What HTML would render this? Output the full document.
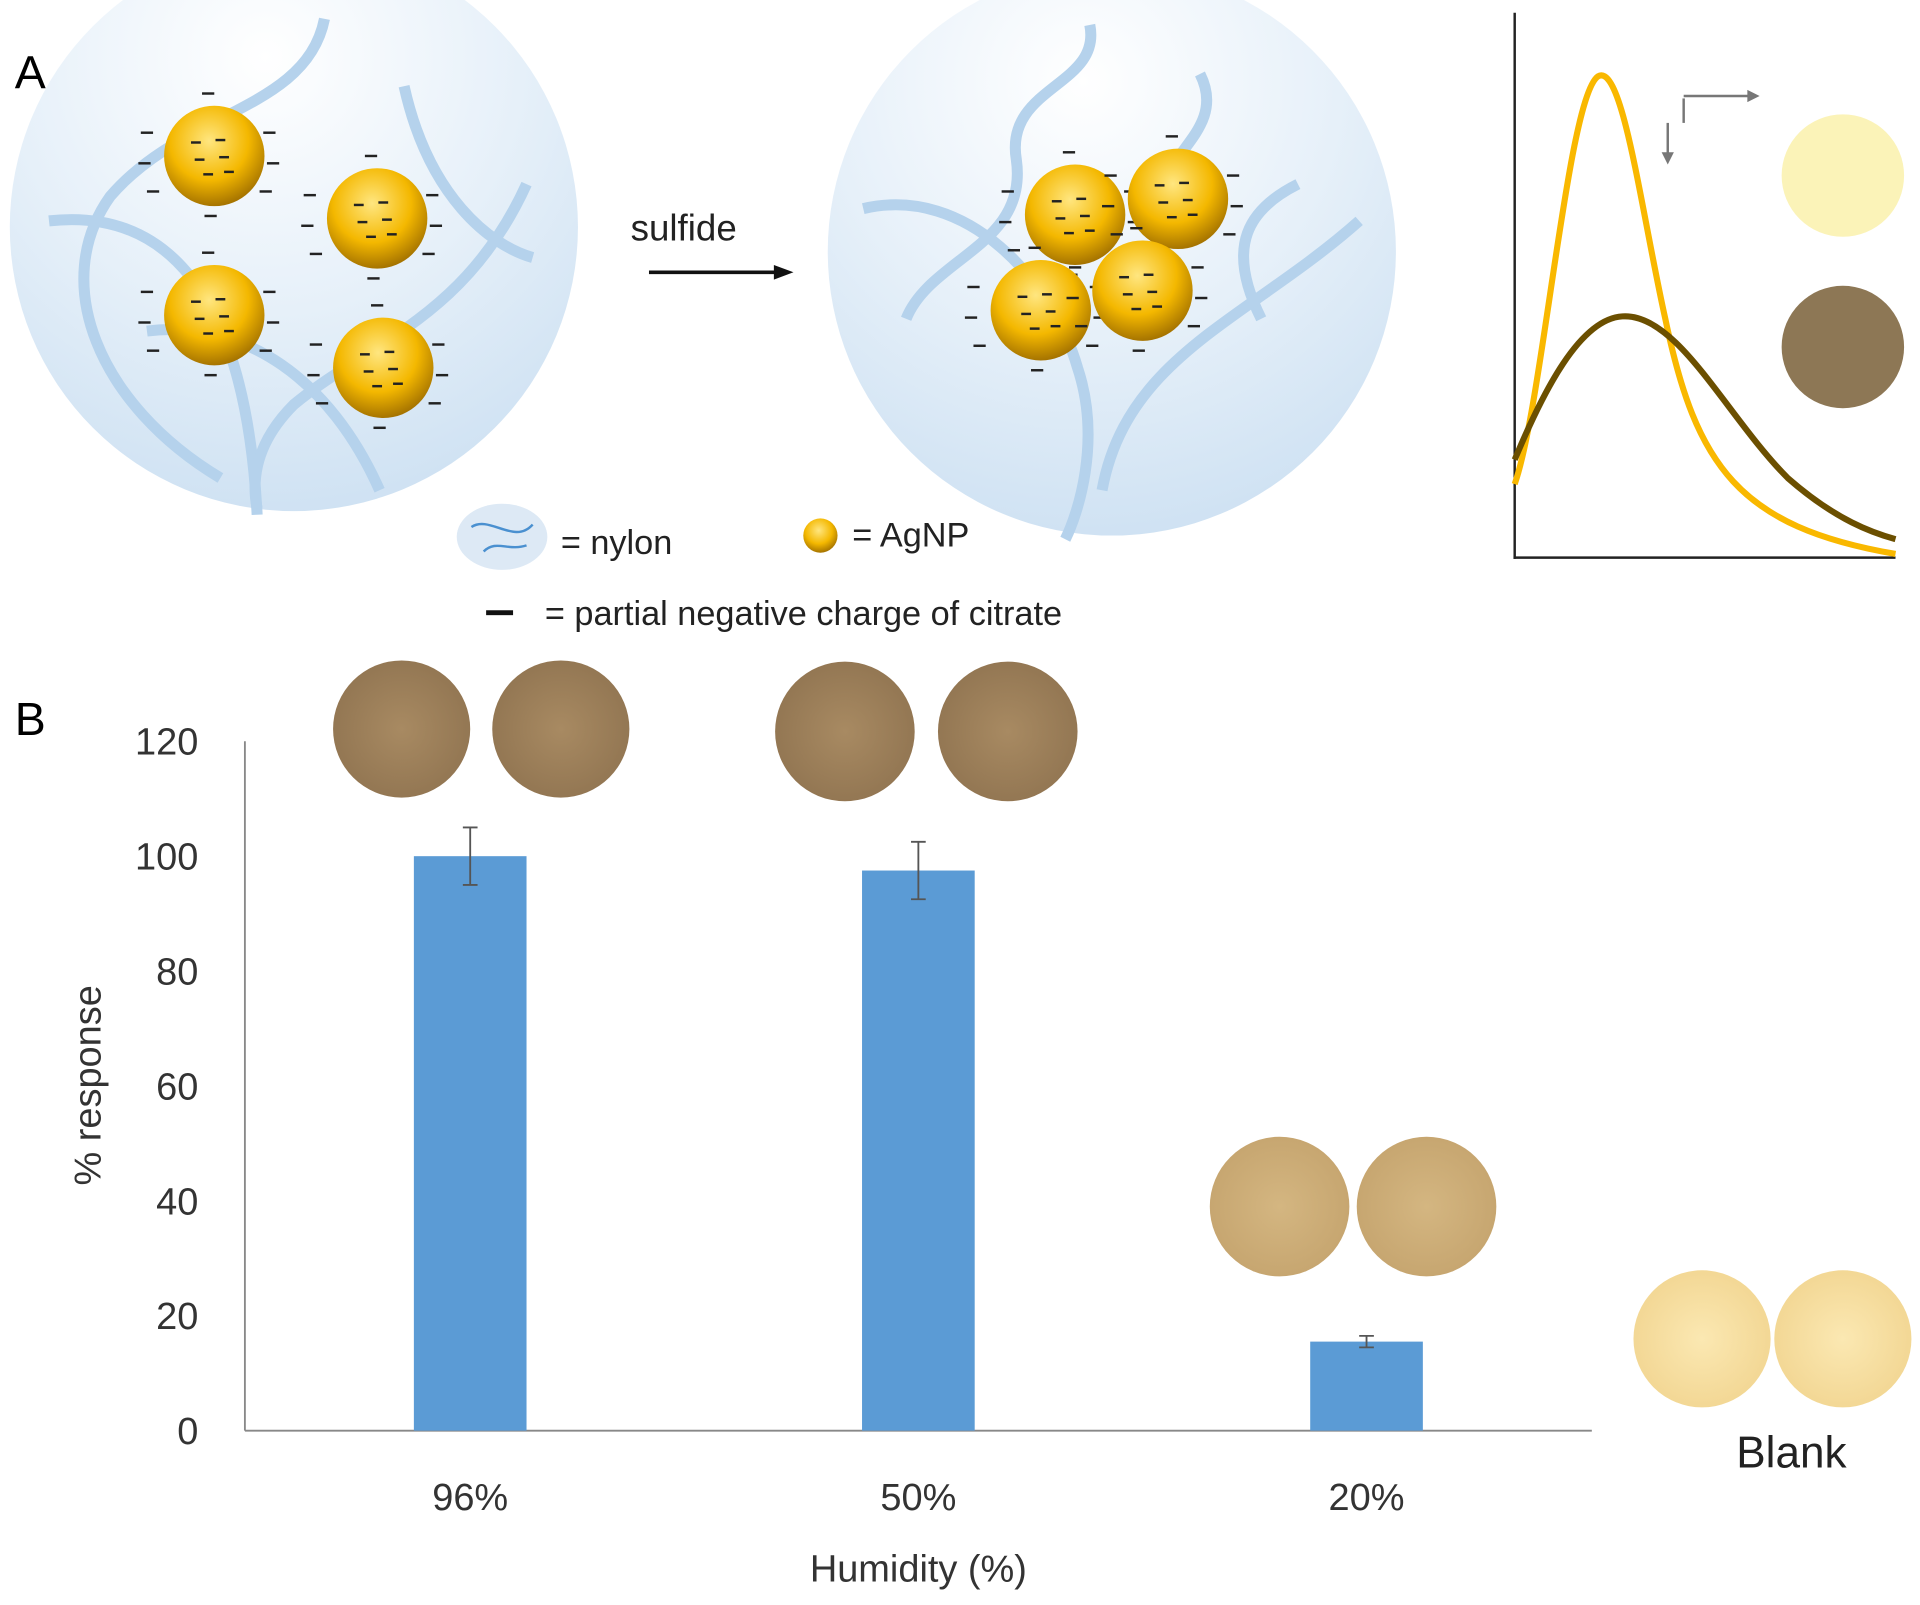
<!DOCTYPE html>
<html><head><meta charset="utf-8"><style>
html,body{margin:0;padding:0;background:#fff;}
svg{display:block;font-family:"Liberation Sans","DejaVu Sans",sans-serif;}
</style></head><body>
<svg id="fig" width="1920" height="1605" viewBox="0 0 1568 1310" xmlns="http://www.w3.org/2000/svg">
<defs>
<radialGradient id="bub" cx="0.45" cy="0.2" r="0.9"><stop offset="0" stop-color="#ffffff"/><stop offset="0.5" stop-color="#e6f0f9"/><stop offset="1" stop-color="#c9def1"/></radialGradient>
<radialGradient id="np" cx="0.45" cy="0.35" r="0.65"><stop offset="0" stop-color="#ffe680"/><stop offset="0.6" stop-color="#f4b800"/><stop offset="1" stop-color="#a67400"/></radialGradient>
<radialGradient id="brown" cx="0.5" cy="0.5" r="0.6"><stop offset="0" stop-color="#a88a62"/><stop offset="1" stop-color="#8f7350"/></radialGradient>
<radialGradient id="tan" cx="0.5" cy="0.5" r="0.6"><stop offset="0" stop-color="#d4b681"/><stop offset="1" stop-color="#c4a36d"/></radialGradient>
<radialGradient id="pale" cx="0.5" cy="0.5" r="0.6"><stop offset="0" stop-color="#fbe8b2"/><stop offset="1" stop-color="#f1d48f"/></radialGradient>
</defs>

<!-- Panel A -->
<text x="12" y="72" font-size="38">A</text>
<g>
<circle cx="240" cy="185" r="232" fill="url(#bub)"/>
<g fill="none" stroke="#b5d2ec" stroke-width="9">
<path d="M265 15 C250 90 150 90 90 160 C40 230 80 330 180 390"/>
<path d="M40 180 C130 170 200 230 210 420"/>
<path d="M330 70 C350 160 400 200 435 210"/>
<path d="M120 270 C200 260 270 310 310 400"/>
<path d="M430 150 C380 260 300 280 240 330 C210 360 205 390 210 415"/>
</g>
</g>
<g>
<circle cx="908" cy="205" r="232" fill="url(#bub)"/>
<g fill="none" stroke="#b5d2ec" stroke-width="9">
<path d="M890 20 C900 70 820 70 830 130 C840 200 760 210 740 260"/>
<path d="M705 170 C790 150 860 230 880 300 C900 360 880 420 870 440"/>
<path d="M1060 150 C1020 170 1000 200 1030 260"/>
<path d="M1110 180 C1020 260 920 290 900 400"/>
<path d="M980 60 C1000 100 960 120 950 150"/>
</g>
</g>
<g id="nps"></g>

<text x="515" y="196" font-size="30" fill="#222">sulfide</text>
<line x1="530" y1="222" x2="635" y2="222" stroke="#111" stroke-width="3"/>
<polygon points="648,222 632,216 632,228" fill="#111"/>

<g>
<ellipse cx="410" cy="438" rx="37" ry="27" fill="#dde9f5"/>
<path d="M385 430 C400 420 420 445 435 428 M395 450 C405 440 415 450 430 445" stroke="#4a90d0" stroke-width="2" fill="none"/>
<text x="458" y="452" font-size="28" fill="#222">=  nylon</text>
<circle cx="670" cy="437" r="14" fill="url(#np)"/>
<text x="696" y="446" font-size="28" fill="#222">=  AgNP</text>
<rect x="397" y="498" width="22" height="4" fill="#111"/>
<text x="445" y="510" font-size="28" fill="#222">=  partial negative charge of citrate</text>
</g>

<g>
<line x1="1237" y1="10" x2="1237" y2="456" stroke="#222" stroke-width="2"/>
<line x1="1236" y1="455" x2="1548" y2="455" stroke="#222" stroke-width="2"/>
<path d="M1237 395 C1260 330 1280 80 1305 62 C1325 50 1340 170 1360 260 C1385 380 1420 430 1548 452" fill="none" stroke="#f9b800" stroke-width="5"/>
<path d="M1237 375 C1260 320 1290 260 1325 258 C1370 255 1410 340 1460 390 C1500 425 1530 435 1548 440" fill="none" stroke="#6b4f00" stroke-width="5"/>
<line x1="1362" y1="100" x2="1362" y2="128" stroke="#777" stroke-width="2"/><polygon points="1362,134 1357,124 1367,124" fill="#777"/>
<line x1="1375" y1="80" x2="1375" y2="100" stroke="#777" stroke-width="2"/>
<line x1="1375" y1="78" x2="1430" y2="78" stroke="#777" stroke-width="2"/><polygon points="1437,78 1427,73 1427,83" fill="#777"/>
<circle cx="1505" cy="143" r="50" fill="#fbf3b8"/>
<circle cx="1505" cy="283" r="50" fill="#8d7755"/>
</g>

<!-- Panel B -->
<text x="12" y="600" font-size="38">B</text>
<g id="chart"></g>
<g>
<circle cx="328" cy="595" r="56" fill="url(#brown)"/><circle cx="458" cy="595" r="56" fill="url(#brown)"/>
<circle cx="690" cy="597" r="57" fill="url(#brown)"/><circle cx="823" cy="597" r="57" fill="url(#brown)"/>
<circle cx="1045" cy="985" r="57" fill="url(#tan)"/><circle cx="1165" cy="985" r="57" fill="url(#tan)"/>
<circle cx="1390" cy="1093" r="56" fill="url(#pale)"/><circle cx="1505" cy="1093" r="56" fill="url(#pale)"/>
</g>
<text x="1463" y="1198" font-size="36" text-anchor="middle" fill="#222">Blank</text>
</svg>
<script>
const categories = ["96%", "50%", "20%"];
const values = [100, 97.5, 15.5];
const errors = [5, 5, 1];
const yTicks = [0, 20, 40, 60, 80, 100, 120];
const NS = "http://www.w3.org/2000/svg";
function mk(tag, attrs, parent, text){const e=document.createElementNS(NS,tag);for(const k in attrs)e.setAttribute(k,attrs[k]);if(text!==undefined)e.textContent=text;parent.appendChild(e);return e;}
const x0=200,x1=1300,yBase=1168,yTop=605,yMax=120;
function yScale(v){return yBase-(v/yMax)*(yBase-yTop);}
function xScale(i){return 384+i*366;}
const chart=document.getElementById('chart');
const ya=mk('line',{x1:x0,y1:yTop,x2:x0,y2:yBase,stroke:'#888','stroke-width':1.5},chart);


const xa=mk('line',{x1:x0,y1:yBase,x2:x1,y2:yBase,stroke:'#888','stroke-width':1.5},chart);


yTicks.forEach(t=>{
  const tl=mk('text',{x:162,y:yScale(t)+11,'font-size':31,'text-anchor':'end',fill:'#333'},chart,String(t));
  
  
});
categories.forEach((c,i)=>{
  const cx=xScale(i),w=92;
  const b=mk('rect',{x:cx-w/2,y:yScale(values[i]),width:w,height:yBase-yScale(values[i]),fill:'#5b9bd5'},chart);
  
  
  const e=mk('path',{d:`M${cx} ${yScale(values[i]+errors[i])} V${yScale(values[i]-errors[i])} M${cx-6} ${yScale(values[i]+errors[i])} H${cx+6} M${cx-6} ${yScale(values[i]-errors[i])} H${cx+6}`,stroke:'#555','stroke-width':1.5,fill:'none'},chart);
  
  
  const l=mk('text',{x:cx,y:1233,'font-size':31,'text-anchor':'middle',fill:'#333'},chart,c);
  
  
});
const xt=mk('text',{x:750,y:1291,'font-size':31,'text-anchor':'middle',fill:'#333'},chart,'Humidity (%)');


const yt=mk('text',{x:0,y:0,'font-size':31,'text-anchor':'middle',fill:'#333',transform:'translate(82 886) rotate(-90)'},chart,'% response');


// nanoparticles
const nps=document.getElementById('nps');
[[175,127],[308,178],[175,257],[313,300],[878,175],[962,162],[850,253],[933,237]].forEach(p=>{
  const c=mk('circle',{cx:p[0],cy:p[1],r:41,fill:'url(#np)'},nps);
  
  
  [[-15,-12],[5,-14],[-12,2],[8,0],[-5,14],[12,12]].forEach(d=>mk('rect',{x:p[0]+d[0]-4,y:p[1]+d[1],width:8,height:2,fill:'#222'},nps));
  [[-55,-20],[-57,5],[-50,28],[45,-20],[48,5],[42,28],[-5,-52],[-3,48]].forEach(d=>mk('rect',{x:p[0]+d[0]-5,y:p[1]+d[1],width:10,height:2,fill:'#222'},nps));
});
</script>
</body></html>
